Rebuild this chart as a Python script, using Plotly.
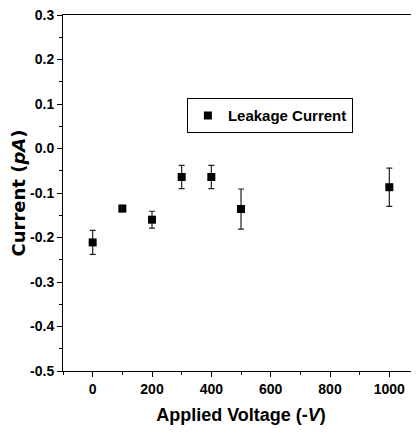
import plotly.graph_objects as go

voltage = [0, 100, 200, 300, 400, 500, 1000]
current = [-0.211, -0.135, -0.160, -0.064, -0.064, -0.136, -0.087]
current_err = [0.027, 0.007, 0.019, 0.026, 0.026, 0.045, 0.043]
y_ticks = [0.3, 0.2, 0.1, 0.0, -0.1, -0.2, -0.3, -0.4, -0.5]
y_tick_text = ["0.3", "0.2", "0.1", "0.0", "-0.1", "-0.2", "-0.3", "-0.4", "-0.5"]
x_ticks = [0, 200, 400, 600, 800, 1000]
x_tick_text = ["0", "200", "400", "600", "800", "1000"]

narrow = "Liberation Sans Narrow, Arial Narrow, Liberation Sans, Arial"

fig = go.Figure()
fig.add_trace(go.Scatter(
    x=voltage, y=current, mode="markers", name="Leakage Current",
    marker=dict(symbol="square", size=8, color="black"),
    error_y=dict(type="data", array=current_err, visible=True,
                 color="#222222", thickness=1.2, width=3),
))

# page body has an 8px margin: compensate so the plot lands where the reference has it
fig.update_layout(
    width=411, height=431,
    margin=dict(l=55, r=0, t=7, b=68),
    plot_bgcolor="white", paper_bgcolor="white",
    showlegend=True,
    legend=dict(
        x=0.348, y=0.766, xanchor="left", yanchor="top",
        bordercolor="black", borderwidth=1, bgcolor="white",
        font=dict(family=narrow, size=15, color="black", weight="bold"),
        itemwidth=30, tracegroupgap=0,
    ),
    xaxis=dict(
        range=[-100, 1100], tickvals=x_ticks,
        ticktext=["<b>%s</b>" % t for t in x_tick_text],
        ticks="outside", ticklen=5, tickwidth=1, tickcolor="black",
        showline=True, linecolor="black", linewidth=1, mirror=True,
        showgrid=False, zeroline=False, automargin=False,
        ticklabeloverflow="allow",
        tickfont=dict(family=narrow, size=14, color="black"),
        minor=dict(dtick=100, ticks="outside", ticklen=3, tickcolor="black", showgrid=False),
        title=dict(text="<b>Applied Voltage (-<i>V</i>)</b>", standoff=12,
                   font=dict(family=narrow, size=18, color="black")),
    ),
    yaxis=dict(
        range=[-0.5, 0.3], tickvals=y_ticks,
        ticktext=["<b>%s</b>" % t for t in y_tick_text],
        ticks="outside", ticklen=5, tickwidth=1, tickcolor="black",
        showline=True, linecolor="black", linewidth=1, mirror=False,
        showgrid=False, zeroline=False, automargin=False,
        ticklabeloverflow="allow",
        tickfont=dict(family=narrow, size=14, color="black"),
        minor=dict(dtick=0.05, ticks="outside", ticklen=3, tickcolor="black", showgrid=False),
        title=dict(text="<b>Current (<i>pA</i>)</b>", standoff=7,
                   font=dict(family="DejaVu Sans, Arial", size=18, color="black")),
    ),
)

fig.write_html("out.html")
